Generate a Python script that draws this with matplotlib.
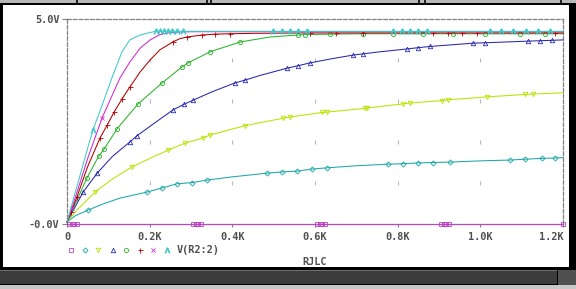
import matplotlib
matplotlib.use("Agg")
import matplotlib.pyplot as plt
from matplotlib.patches import Rectangle
from matplotlib.lines import Line2D

# ---------------- data (x in ohms, y in volts) ----------------
x_ticks = [0, 200, 400, 600, 800, 1000, 1200]
x_ticklabels = ["0", "0.2K", "0.4K", "0.6K", "0.8K", "1.0K", "1.2K"]
y_ticks = [0.0, 5.0]
y_ticklabels = ["-0.0V", "5.0V"]
x_label = "RJLC"
legend_label = "V(R2:2)"

flat_x = [0, 5, 12, 18, 25, 305, 312, 318, 325, 605, 612, 618, 625, 905, 912, 918, 925, 1200]
flat_y = [0.0] * len(flat_x)
flat_mk = [5, 12, 18, 25, 305, 312, 318, 325, 605, 612, 618, 625, 905, 912, 918, 925, 1200]

cs_x = [0, 20, 51, 90, 128, 194, 230, 266, 302, 338, 400, 484, 520, 557, 593, 629, 700, 777, 813,
        849, 886, 927, 1000, 1072, 1108, 1149, 1181, 1200]
cs_y = [0.05, 0.2, 0.34, 0.5, 0.63, 0.78, 0.88, 0.98, 1.01, 1.07, 1.15, 1.24, 1.27, 1.29, 1.34, 1.37,
        1.42, 1.46, 1.47, 1.49, 1.50, 1.51, 1.54, 1.56, 1.58, 1.60, 1.61, 1.62]
cs_mk = [51, 194, 230, 266, 302, 338, 484, 520, 557, 593, 629, 777, 813, 849, 886, 927, 1072, 1108, 1149, 1181]

yl_x = [0, 25, 68, 110, 157, 200, 244, 285, 329, 346, 431, 523, 540, 617, 629, 721, 726, 813, 830,
        907, 922, 1016, 1108, 1128, 1200]
yl_y = [0.05, 0.35, 0.78, 1.1, 1.39, 1.6, 1.8, 1.97, 2.1, 2.17, 2.4, 2.58, 2.61, 2.72, 2.73, 2.82, 2.83,
        2.93, 2.95, 3.01, 3.03, 3.1, 3.16, 3.17, 3.2]
yl_mk = [68, 157, 244, 285, 329, 346, 431, 523, 540, 617, 629, 721, 726, 813, 830, 907, 922, 1016, 1108, 1128]

bl_x = [0, 39, 73, 110, 152, 169, 210, 256, 283, 305, 350, 406, 431, 466, 532, 559, 588, 640, 692, 716,
        757, 823, 849, 878, 982, 1011, 1115, 1144, 1173, 1200]
bl_y = [0.05, 0.78, 1.24, 1.65, 2.0, 2.15, 2.45, 2.78, 2.92, 3.02, 3.22, 3.44, 3.51, 3.62, 3.8, 3.86, 3.93,
        4.03, 4.12, 4.15, 4.2, 4.27, 4.3, 4.33, 4.41, 4.42, 4.46, 4.47, 4.48, 4.49]
bl_mk = [39, 73, 152, 169, 256, 283, 305, 406, 431, 532, 559, 588, 692, 716, 823, 849, 878, 982, 1011,
         1115, 1144, 1173]

gr_x = [0, 25, 48, 77, 90, 121, 172, 230, 278, 293, 346, 419, 491, 559, 576, 636, 716, 789, 861, 934,
        1011, 1096, 1157, 1200]
gr_y = [0.05, 0.6, 1.12, 1.66, 1.83, 2.32, 2.93, 3.44, 3.83, 3.93, 4.2, 4.44, 4.56, 4.61, 4.62, 4.63, 4.64,
        4.64, 4.64, 4.64, 4.64, 4.64, 4.64, 4.64]
gr_mk = [48, 77, 90, 121, 172, 230, 278, 293, 346, 419, 559, 576, 636, 716, 789, 861, 934, 1011, 1096, 1157]

rd_x = [0, 10, 24, 50, 80, 97, 114, 133, 152, 177, 201, 225, 256, 273, 290, 327, 358, 394, 450, 588,
        650, 716, 886, 922, 956, 992, 1181, 1200]
rd_y = [0.05, 0.3, 0.66, 1.4, 2.1, 2.41, 2.73, 3.05, 3.34, 3.71, 4.0, 4.25, 4.44, 4.52, 4.56, 4.61, 4.63,
        4.64, 4.65, 4.66, 4.66, 4.66, 4.66, 4.66, 4.66, 4.66, 4.66, 4.66]
rd_mk = [10, 24, 80, 97, 114, 133, 152, 256, 290, 327, 358, 394, 588, 650, 716, 886, 922, 956, 992, 1181]

mg_x = [0, 12, 25, 50, 85, 128, 152, 177, 201, 225, 250, 300, 1200]
mg_y = [0.05, 0.4, 0.8, 1.6, 2.59, 3.56, 3.95, 4.29, 4.49, 4.62, 4.67, 4.69, 4.69]
mg_mk = [12, 85]

lc_x = [0, 25, 50, 63, 85, 110, 133, 152, 177, 201, 215, 225, 235, 245, 255, 265, 280, 300, 498, 520,
        540, 560, 580, 789, 810, 830, 850, 871, 1023, 1050, 1080, 1110, 1140, 1168, 1200]
lc_y = [0.05, 0.95, 1.85, 2.3, 2.9, 3.6, 4.2, 4.49, 4.61, 4.67] + [4.7] * 25
lc_mk = [63, 215, 225, 235, 245, 255, 265, 280, 498, 520, 540, 560, 580, 789, 810, 830, 850, 871,
         1023, 1050, 1080, 1110, 1140, 1168]

series = [
    (flat_x, flat_y, flat_mk, "#c040c8", "s"),
    (cs_x, cs_y, cs_mk, "#1aa8a8", "D"),
    (yl_x, yl_y, yl_mk, "#b8e400", "v"),
    (bl_x, bl_y, bl_mk, "#2828b0", "^"),
    (gr_x, gr_y, gr_mk, "#28b428", "o"),
    (rd_x, rd_y, rd_mk, "#b00000", "+"),
    (mg_x, mg_y, mg_mk, "#d028d0", "x"),
    (lc_x, lc_y, lc_mk, "#40c8c8", r"$\Lambda$"),
]
msizes = {"s": 3.0, "D": 2.6, "v": 3.2, "^": 3.2, "o": 3.0, "+": 3.6, "x": 3.0, r"$\Lambda$": 3.8}

# ---------------- figure ----------------
W, H = 576, 289
fig = plt.figure(figsize=(W / 100, H / 100), dpi=100)
fig.patch.set_facecolor("black")


def fr(x, y, w, h):
    return (x / W, 1 - (y + h) / H), w / W, h / H


def rect(x, y, w, h, color, z=0):
    (fx, fy), fw, fh = fr(x, y, w, h)
    fig.add_artist(Rectangle((fx, fy), fw, fh, transform=fig.transFigure,
                             facecolor=color, edgecolor="none", zorder=z))


# window chrome
rect(0, 0, W, 3, "#b8b8b8")
for sx in [76, 206, 210, 418, 424, 560]:
    rect(sx, 0, 2, 3, "#202020", 1)
rect(3, 5, 566, 262, "white")
rect(0, 270, 557, 14, "#3c3c3c")
rect(0, 270, 557, 1, "#707070", 1)
rect(0, 285, W, 4, "#c8c8c8")
rect(558, 270, 18, 15, "#505050")

# axes: x 0..1200 -> px 67..563 ; y 0..5 -> px 224..19
(ax_x, ax_y), ax_w, ax_h = fr(67, 19, 563 - 67, 224 - 19)
ax = fig.add_axes([ax_x, ax_y, ax_w, ax_h])
ax.set_facecolor("none")
ax.set_xlim(0, 1200)
ax.set_ylim(0, 5)

for s in ["left", "top", "right"]:
    ax.spines[s].set_linestyle((0, (3, 1.6)))
    ax.spines[s].set_color("#808080")
    ax.spines[s].set_linewidth(0.9)
ax.spines["bottom"].set_color("#808080")
ax.spines["bottom"].set_linewidth(0.9)

tkw = dict(family="DejaVu Sans Mono", weight="bold", size=7.4, color="#505050")
ax.set_xticks(x_ticks)
ax.set_xticklabels(x_ticklabels, **tkw)
ax.get_xticklabels()[-1].set_horizontalalignment("right")
ax.set_yticks(y_ticks)
ax.set_yticklabels(y_ticklabels, **tkw)
ax.tick_params(axis="x", direction="out", length=2.5, width=0.8, color="#808080", pad=3)
ax.tick_params(axis="y", direction="out", length=3.5, width=0.8, color="#808080", pad=2)
ax.set_xlabel(x_label, labelpad=11, **tkw)

# grid dots
for gx in x_ticks[1:-1]:
    for gy in [1, 2, 3, 4]:
        ax.plot([gx], [gy], marker="|", ms=2.5, mew=0.8, color="#b8b8b8", zorder=1)

for xs, ys, mk, col, m in series:
    idx = [i for i, v in enumerate(xs) if v in mk]
    ax.plot(xs, ys, color=col, lw=0.75, marker=m, markevery=idx, ms=msizes[m],
            mew=0.6, mfc="none", mec=col, clip_on=False, zorder=3)

# legend row
leg_px = [71, 85, 98, 113, 126, 140, 153, 167]
for (xs, ys, mk, col, m), lx in zip(series, leg_px):
    fx, fy = lx / W, 1 - 250 / H
    fig.add_artist(Line2D([fx], [fy], marker=m, ms=msizes[m], mew=0.6,
                          mfc="none", mec=col, color=col, linestyle="none",
                          transform=fig.transFigure))
fig.text(177 / W, 1 - 250 / H, legend_label, ha="left", va="center", **tkw)

fig.savefig("out.png", dpi=100, facecolor=fig.get_facecolor())
